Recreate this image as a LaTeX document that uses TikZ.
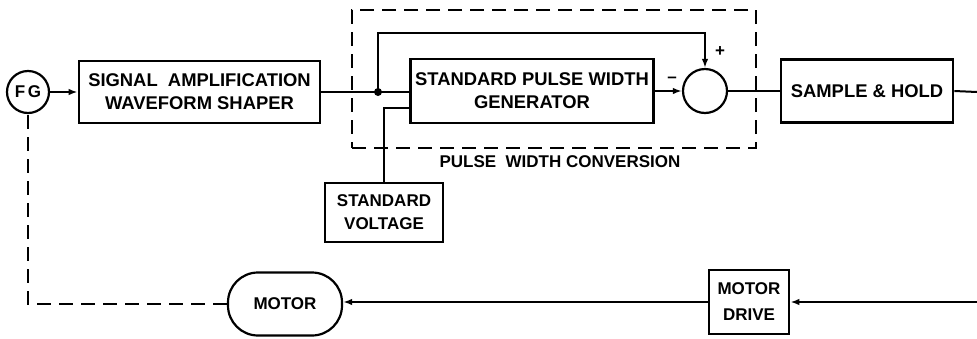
\documentclass[tikz,border=0pt]{standalone}
\usepackage{fontspec}
\setmainfont{Liberation Sans}
\usetikzlibrary{arrows.meta}
\tikzset{
  blk/.style={draw, line width=2.6pt, align=center, inner sep=0pt},
  ln/.style={line width=2pt},
  arr/.style={ln, -{Latex[length=9pt,width=6.5pt]}},
  dsh/.style={line width=1.8pt, dash pattern=on 14pt off 8pt},
  txt/.style={font=\fontsize{17}{23}\selectfont\bfseries},
  bigtxt/.style={font=\fontsize{18.4}{23}\selectfont\bfseries}
}
\begin{document}
\begin{tikzpicture}[x=1pt,y=-1pt, every node/.style={txt}]
\useasboundingbox (0,0) rectangle (977,338);
% dashed group
\node[dsh, draw, minimum width=404pt, minimum height=138pt, inner sep=0pt] (pwc) at (554,79) {};
\node (lbl) at (560,162) {PULSE\ \ WIDTH CONVERSION};
% top row
\node[circle, draw, line width=2.2pt, minimum size=42pt, inner sep=0pt] (fg) at (28,92) {F\,G};
\node[blk, bigtxt, minimum width=241pt, minimum height=62pt] (sig) at (199.5,92) {SIGNAL\ \ AMPLIFICATION\\WAVEFORM SHAPER};
\node[blk, bigtxt, minimum width=243pt, minimum height=64pt] (spwg) at (532,91) {STANDARD PULSE WIDTH\\GENERATOR};
\node[circle, draw, line width=2.2pt, minimum size=44pt, inner sep=0pt] (sum) at (705,91) {};
\node[blk, bigtxt, minimum width=172pt, minimum height=63pt] (sh) at (867,91) {SAMPLE \& HOLD};
\node[blk, minimum width=118pt, minimum height=59pt] (sv) at (384,212.5) {STANDARD\\VOLTAGE};
\node (minus) at (672,80) {--};
\node (plus) at (720,52) {+};
% bottom row
\node[blk, minimum width=80pt, minimum height=64pt] (md) at (749,302) {MOTOR\\[3pt]DRIVE};
\node[draw, line width=2.2pt, minimum width=114pt, minimum height=63pt, rounded corners=30pt] (motor) at (285,304) {MOTOR};
% coordinates
\coordinate (j) at (378,92);
\coordinate (tp) at (705,33);
\coordinate (rt) at (977,92);
\coordinate (re) at (977,302);
% connectors
\draw[arr] (fg) -- (sig.west);
\draw[ln] (sig.east) -- (sig.east -| spwg.west);
\fill (j) circle (4pt);
\draw[arr] (j) |- (tp) -- (sum.north);
\draw[ln] (sv.north) |- (spwg.west |- 0,108);
\draw[arr] (spwg.east) -- (spwg.east -| sum.west);
\draw[ln] (sum.east) -- (sum.east -| sh.west);
\draw[ln] (sh.east) -- (rt);
\draw[arr] (re) -- (md.east);
\draw[arr] (md.west) -- (md.west -| motor.east);
\draw[dsh] (motor.west) -| (fg.south);
\end{tikzpicture}
\end{document}
